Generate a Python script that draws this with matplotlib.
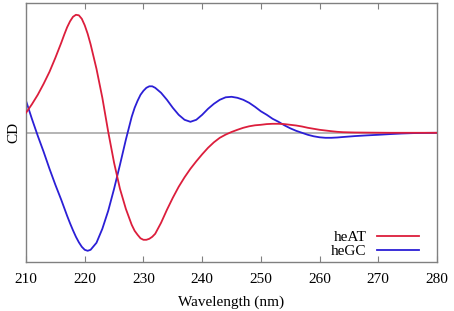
import numpy as np
import matplotlib
matplotlib.use("Agg")
import matplotlib.pyplot as plt

# wavelengths (nm)
wl = [210, 211, 212, 213, 214, 215, 216,
      216.5, 217, 217.5, 218, 218.5, 219, 219.5, 220, 220.5, 221,
      222, 223, 224, 225, 226, 227, 228,
      228.5, 229, 229.5, 230, 230.5, 231, 231.5,
      232, 233, 234, 235, 236, 237, 238, 239, 240, 241, 242, 243, 244, 245,
      246, 247, 248, 249, 250, 251, 252, 253, 254, 255, 256, 257, 258, 259,
      260, 261, 262, 263, 264,
      266, 268, 270, 272, 274, 276, 278, 280]

# CD signal (arbitrary units)
heAT = [20, 28.5, 38, 49, 61, 75, 90,
        98, 105.5, 111.5, 116, 118, 117.5, 114, 107.5, 99, 88.5,
        64, 35, 1, -30, -56, -76, -92,
        -98, -102, -105.5, -107, -107, -106, -104,
        -101, -90, -77, -65, -54, -44.5, -36, -28.5, -21.5, -15, -9.5, -5, -1.8, 0.8,
        3, 5, 6.5, 7.5, 8, 8.7, 9, 9, 8.7, 8, 7.3, 6.3, 5, 4,
        3, 2.3, 1.6, 1, 0.6,
        0.3, 0.2, 0.1, 0, 0, 0, 0, 0]

heGC = [32, 14, -3, -19, -36, -52, -67,
        -75, -83, -90.5, -97.5, -104, -109.5, -114, -117, -118, -117,
        -110, -96, -78, -56, -32, -7, 16,
        25, 32, 38, 42, 45, 46.5, 46.5,
        45, 40, 33, 25, 18, 13, 11, 13, 18, 24, 29, 33, 35.5, 36,
        35, 33, 30, 26, 21.5, 18, 14, 11, 7.5, 4.5, 2, 0, -2, -3.5,
        -4.5, -5, -5, -4.7, -4.2,
        -3.3, -2.6, -2, -1.3, -0.7, -0.3, -0.1, 0]

xticks = [210, 220, 230, 240, 250, 260, 270, 280]

plt.rcParams['font.family'] = ['Liberation Serif', 'DejaVu Serif']
plt.rcParams['font.size'] = 11

fig = plt.figure(figsize=(4.54, 3.11), dpi=100)
ax = fig.add_axes([0.0573, 0.1566, 0.9053, 0.8328])

ax.axhline(0, color='#a0a0a0', lw=1.1, zorder=1)
ax.plot(wl, heAT, color='#dc1e3c', lw=1.3, label='heAT', zorder=3,
        solid_joinstyle='round')
ax.plot(wl, heGC, color='#2b1fd6', lw=1.3, label='heGC', zorder=2,
        solid_joinstyle='round')

ax.set_xlim(210, 280)
ax.set_ylim(-129.5, 129.5)
ax.set_xticks(xticks)
ax.set_yticks([])
ax.tick_params(axis='x', direction='in', top=True, bottom=True, length=4,
               width=0.8, color='#808080', pad=8)
for s in ax.spines.values():
    s.set_color('#808080')
    s.set_linewidth(1.0)

ax.set_xlabel('Wavelength (nm)', labelpad=6.5)
ax.set_ylabel('CD', labelpad=4)

ax.legend(loc='lower right', bbox_to_anchor=(0.955, 0.015), markerfirst=False,
          frameon=False, handlelength=2.7, handletextpad=0.7, labelspacing=0.05,
          borderpad=0, borderaxespad=0)

fig.savefig('out.png', dpi=100)
